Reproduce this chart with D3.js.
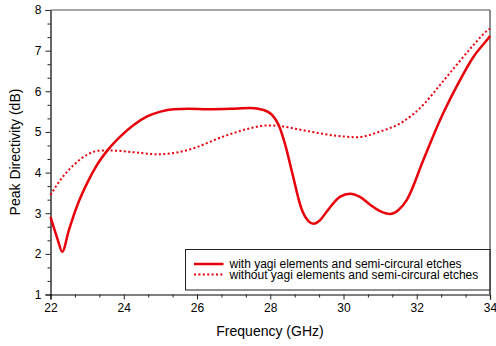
<!DOCTYPE html>
<html><head><meta charset="utf-8">
<script src="https://cdn.jsdelivr.net/npm/d3@7"></script>
<style>body{margin:0;background:#fff;} svg{display:block;} text{font-family:"Liberation Sans",Arial,sans-serif;}</style>
</head><body><svg id="c" width="496" height="346"></svg>
<script>
const withFreq = [22, 22.1, 22.2, 22.32, 22.5, 22.73, 23.0, 23.27, 23.55, 23.91, 24.27, 24.64, 25.0, 25.36, 25.77, 26.3, 26.91, 27.45, 27.82, 28.05, 28.23, 28.41, 28.59, 28.86, 29.05, 29.18, 29.35, 29.55, 29.91, 30.18, 30.45, 30.73, 31.0, 31.27, 31.5, 31.73, 32.18, 32.64, 33.09, 33.55, 33.95, 34];
const withVals = [2.91, 2.62, 2.34, 2.05, 2.58, 3.19, 3.74, 4.19, 4.54, 4.89, 5.17, 5.38, 5.50, 5.56, 5.57, 5.56, 5.57, 5.59, 5.54, 5.42, 5.17, 4.68, 4.03, 3.09, 2.80, 2.74, 2.82, 3.05, 3.41, 3.48, 3.40, 3.21, 3.05, 2.98, 3.08, 3.33, 4.31, 5.30, 6.12, 6.85, 7.30, 7.36];
const withoutFreq = [22, 22.27, 22.64, 23.0, 23.36, 23.73, 24.27, 24.91, 25.36, 25.77, 26.73, 27.45, 27.91, 28.23, 28.73, 29.09, 29.86, 30.36, 31.0, 31.64, 32.18, 32.64, 33.09, 33.55, 33.95, 34];
const withoutVals = [3.45, 3.82, 4.19, 4.44, 4.54, 4.54, 4.50, 4.45, 4.48, 4.56, 4.89, 5.09, 5.16, 5.15, 5.07, 5.01, 4.90, 4.87, 5.01, 5.26, 5.67, 6.16, 6.65, 7.14, 7.51, 7.54];
const xTicks = [22, 24, 26, 28, 30, 32, 34];
const yTicks = [1, 2, 3, 4, 5, 6, 7, 8];
const legendLabels = ["with yagi elements and semi-circural etches", "without yagi elements and semi-circural etches"];

const svg = d3.select("#c");
const L = 50.5, R = 490, T = 10, B = 294.5;
const x = d3.scaleLinear().domain([22, 34]).range([L, R]);
const y = d3.scaleLinear().domain([1, 8]).range([B, T]);
const red = "#e8000b";

// minor ticks
const xMinor = d3.range(22, 34.001, 2/3).filter(v => Math.abs((v - 22) % 2) > 0.01 && Math.abs((v-22)%2 - 2) > 0.01);
const yMinor = d3.range(1, 8.001, 1/3).filter(v => Math.abs(v - Math.round(v)) > 0.01);

const gx = svg.append("g").attr("transform", `translate(0,${B})`);
gx.call(d3.axisBottom(x).tickValues(xTicks).tickSize(5).tickPadding(4).tickFormat(d3.format("d")));
gx.append("g").call(d3.axisBottom(x).tickValues(xMinor).tickSize(3).tickFormat(""));
gx.selectAll(".domain").filter((d,i)=>i>0).remove();
gx.selectAll("text").attr("font-size", 12).attr("fill", "#000").style("font-family", "Liberation Sans, Arial, sans-serif");

const gy = svg.append("g").attr("transform", `translate(${L},0)`);
gy.call(d3.axisLeft(y).tickValues(yTicks).tickSize(5).tickPadding(4).tickFormat(d3.format("d")));
gy.append("g").call(d3.axisLeft(y).tickValues(yMinor).tickSize(3).tickFormat(""));
gy.selectAll(".domain").filter((d,i)=>i>0).remove();
gy.selectAll("text").attr("font-size", 12).attr("fill", "#000").style("font-family", "Liberation Sans, Arial, sans-serif");
svg.selectAll(".tick line").attr("stroke", "#222");
svg.selectAll(".domain").attr("stroke", "#000").attr("stroke-width", 1.2);

// top & right frame
svg.append("line").attr("x1", L).attr("x2", R).attr("y1", T).attr("y2", T).attr("stroke", "#8a8a8a").attr("stroke-width", 1.5);
svg.append("line").attr("x1", R).attr("x2", R).attr("y1", T).attr("y2", B).attr("stroke", "#444").attr("stroke-width", 1.2);

const line = d3.line().x(d => x(d[0])).y(d => y(d[1])).curve(d3.curveMonotoneX);
const withData = withFreq.map((f, i) => [f, withVals[i]]);
const withoutData = withoutFreq.map((f, i) => [f, withoutVals[i]]);

svg.append("path").attr("d", line(withoutData)).attr("fill", "none").attr("stroke", red)
  .attr("stroke-width", 2).attr("stroke-dasharray", "2,2.4");
svg.append("path").attr("d", line(withData)).attr("fill", "none").attr("stroke", red)
  .attr("stroke-width", 2.5).attr("stroke-linejoin", "round");

// legend
const lg = svg.append("g");
lg.append("rect").attr("x", 185.5).attr("y", 249.5).attr("width", R - 185.5).attr("height", 40.5)
  .attr("fill", "#fff").attr("stroke", "#222").attr("stroke-width", 1);
const styles = [{w: 2.5, dash: null}, {w: 2, dash: "2,2.4"}];
legendLabels.forEach((t, i) => {
  const yy = 264 + i * 10.5;
  lg.append("line").attr("x1", 194).attr("x2", 223.5).attr("y1", yy).attr("y2", yy)
    .attr("stroke", red).attr("stroke-width", styles[i].w).attr("stroke-dasharray", styles[i].dash);
  lg.append("text").attr("x", 229.5).attr("y", yy + 4.2).attr("font-size", 12).attr("fill", "#000").text(t);
});
// re-draw right frame over legend
svg.append("line").attr("x1", R).attr("x2", R).attr("y1", 249).attr("y2", B).attr("stroke", "#444").attr("stroke-width", 1.2);

// axis titles
svg.append("text").attr("x", 270).attr("y", 336).attr("text-anchor", "middle").attr("font-size", 14).attr("fill", "#000").text("Frequency (GHz)");
svg.append("text").attr("transform", "translate(20,152) rotate(-90)").attr("text-anchor", "middle").attr("font-size", 14).attr("fill", "#000").text("Peak Directivity (dB)");
</script></body></html>
